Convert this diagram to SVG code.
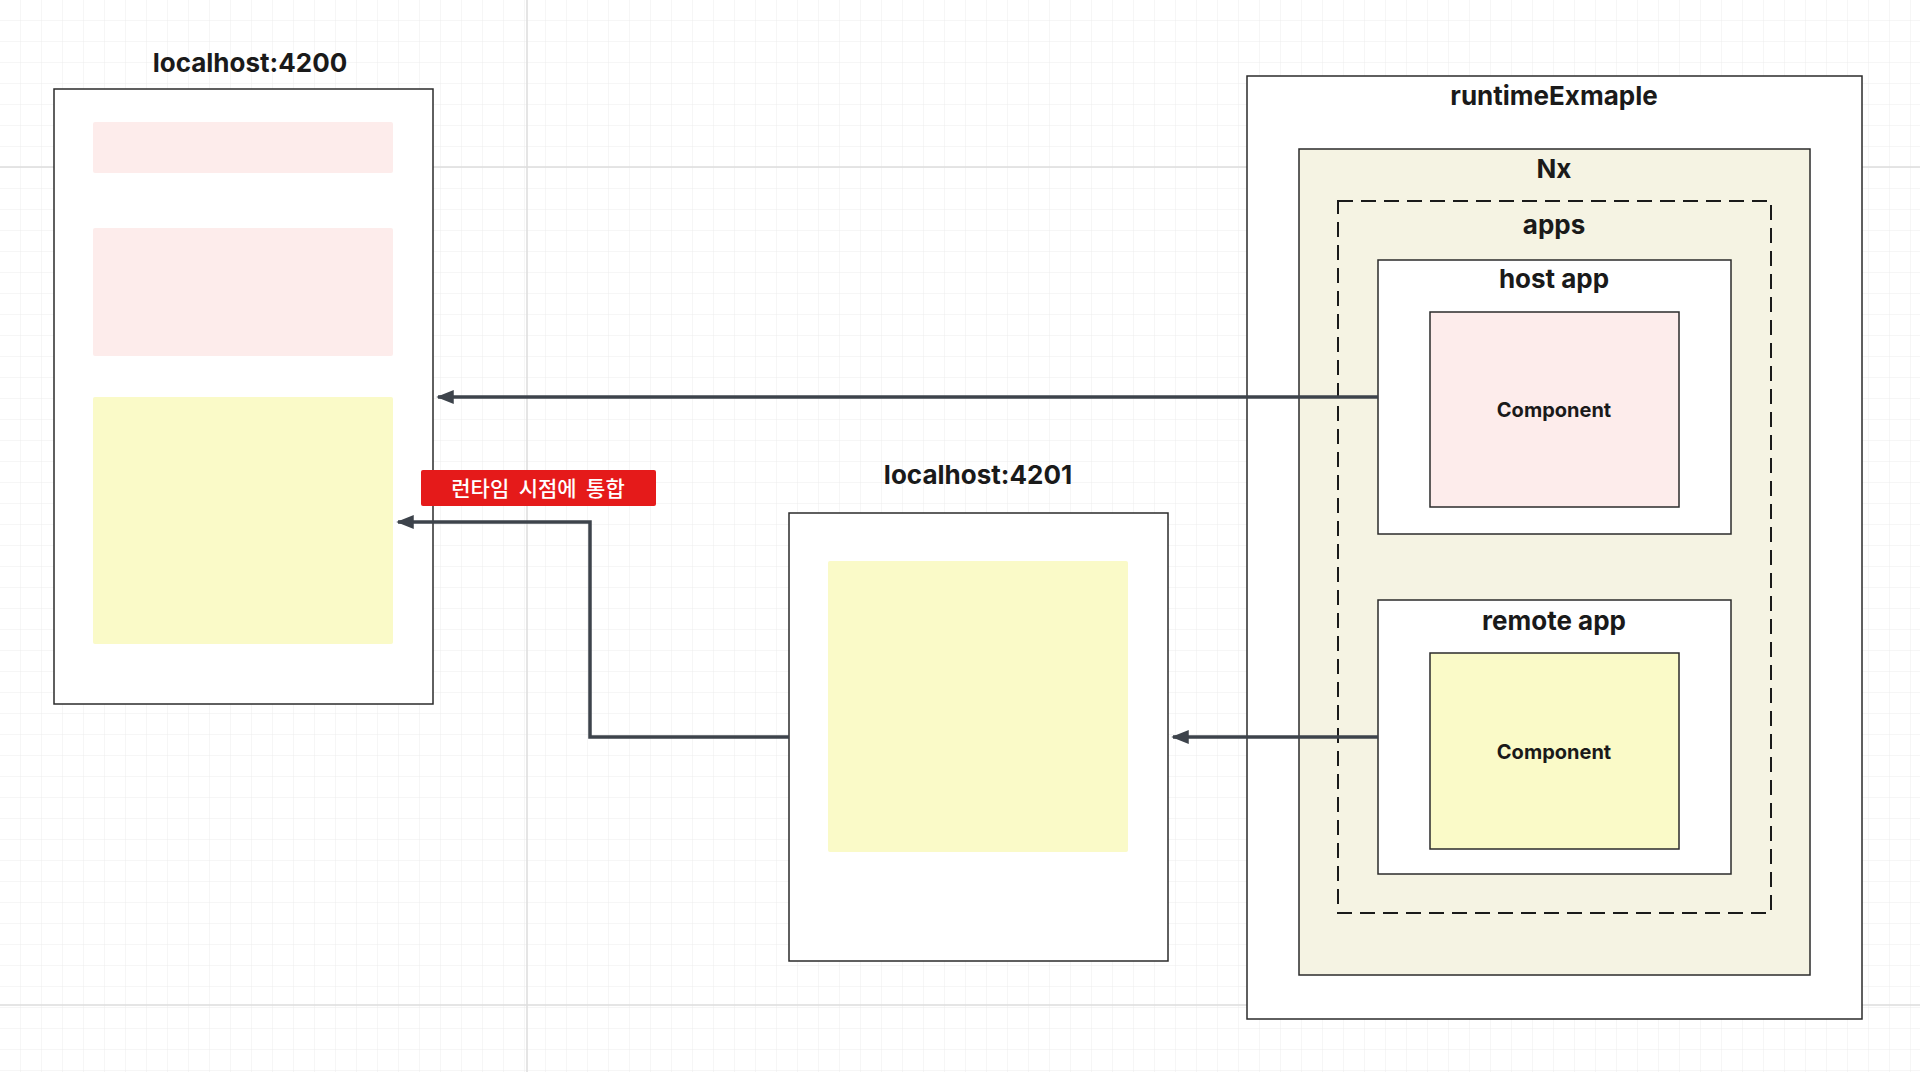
<svg xmlns="http://www.w3.org/2000/svg" width="1920" height="1072" viewBox="0 0 1920 1072">
<style>
.t{font-family:"Inter","Liberation Sans",sans-serif;font-weight:700;font-size:26px;fill:#1a1a1a;text-anchor:middle}
.c{font-family:"Inter","Liberation Sans",sans-serif;font-weight:700;font-size:20px;fill:#1a1a1a;text-anchor:middle}
.box{fill:#fff;stroke:#2b2b2b;stroke-width:1.5}
.pink{fill:#fdeceb}
.yel{fill:#fafac8}
.ln{fill:none;stroke:#3d434b;stroke-width:3.5}
</style>
<defs>
<pattern id="g" width="21" height="21" patternUnits="userSpaceOnUse"><path d="M21 0V21H0" fill="none" stroke="#ececec" stroke-width="1"/></pattern>
<marker id="a" viewBox="0 0 10 10" refX="9" refY="5" markerWidth="5" markerHeight="5" orient="auto"><path d="M0 1L10 5L0 9z" fill="#3d434b"/></marker>
</defs>
<rect width="1920" height="1072" fill="#fff"/>
<rect width="1920" height="1072" fill="url(#g)"/>
<g stroke="#dcdcdc" stroke-width="1.5"><line x1="527" y1="0" x2="527" y2="1072"/><line x1="0" y1="167" x2="1920" y2="167"/><line x1="0" y1="1005" x2="1920" y2="1005"/></g>
<g id="host4200">
<text class="t" x="250" y="72">localhost:4200</text>
<rect class="box" x="54" y="89" width="379" height="615"/>
<rect class="pink" x="93" y="122" width="300" height="51" rx="2"/>
<rect class="pink" x="93" y="228" width="300" height="128" rx="2"/>
<rect class="yel" x="93" y="397" width="300" height="247" rx="2"/>
</g>
<g id="host4201">
<text class="t" x="978" y="484">localhost:4201</text>
<rect class="box" x="789" y="513" width="379" height="448"/>
<rect class="yel" x="828" y="561" width="300" height="291" rx="2"/>
</g>
<g id="runtime">
<rect class="box" x="1247" y="76" width="615" height="943"/>
<text class="t" x="1554" y="105">runtimeExmaple</text>
</g>
<g id="nx">
<rect x="1299" y="149" width="511" height="826" fill="#f5f3e3" stroke="#2b2b2b" stroke-width="1.5"/>
<text class="t" x="1554" y="178">Nx</text>
</g>
<g id="apps">
<rect x="1338" y="201" width="433" height="712" fill="none" stroke="#1a1a1a" stroke-width="2" stroke-dasharray="15 8"/>
<text class="t" x="1554" y="234">apps</text>
</g>
<g id="hostapp">
<rect class="box" x="1378" y="260" width="353" height="274"/>
<text class="t" x="1554" y="288">host app</text>
<rect x="1430" y="312" width="249" height="195" fill="#fdeceb" stroke="#2b2b2b" stroke-width="1.5"/>
<text class="c" x="1554" y="417">Component</text>
</g>
<g id="remoteapp">
<rect class="box" x="1378" y="600" width="353" height="274"/>
<text class="t" x="1554" y="630">remote app</text>
<rect x="1430" y="653" width="249" height="196" fill="#fafac8" stroke="#2b2b2b" stroke-width="1.5"/>
<text class="c" x="1554" y="759">Component</text>
</g>
<g id="connectors">
<path class="ln" d="M1378 397H438" marker-end="url(#a)"/>
<path class="ln" d="M1378 737H1173" marker-end="url(#a)"/>
<path class="ln" d="M789 737H590V522H398" marker-end="url(#a)"/>
</g>
<g id="label">
<rect x="421" y="470" width="235" height="36" rx="2" fill="#e51a1a"/>
<text x="538" y="496" font-family="'Noto Sans CJK KR',sans-serif" font-size="21" font-weight="500" fill="#fff" text-anchor="middle" xml:space="preserve">런타임  시점에  통합</text>
</g>
</svg>
